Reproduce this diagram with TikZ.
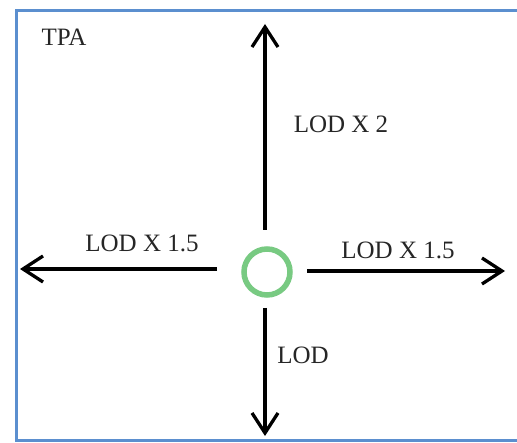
\documentclass[tikz,border=0pt]{standalone}
\usepackage{fontspec}
\setmainfont{Liberation Serif}
\usetikzlibrary{arrows.meta}
\definecolor{frameblue}{HTML}{5B8FCF}
\definecolor{ringgreen}{HTML}{78CA82}
\begin{document}
\begin{tikzpicture}[x=1pt,y=-1pt,
  lbl/.style={anchor=base,font=\fontsize{25}{28}\selectfont,text=black!85,inner sep=0pt},
  arr/.style={line width=3.3pt,-{Straight Barb[length=20pt,width=26pt,line width=3.3pt]}}]
\useasboundingbox (0,0) rectangle (517,443);
\clip (0,0) rectangle (517,443);
\fill[white] (0,0) rectangle (517,443);
\draw[frameblue,line width=3pt] (16,11) rectangle (540,441);
\node[circle,draw=ringgreen,line width=5.5pt,minimum size=46pt,inner sep=0pt] (c) at (267,272) {};
\coordinate (us) at (265,230); \coordinate (ue) at (265,24);
\coordinate (ds) at (265,308); \coordinate (de) at (265,436);
\coordinate (ls) at (217,269); \coordinate (le) at (20,269);
\coordinate (rs) at (307,271); \coordinate (re) at (505,271);
\draw[arr] (us) -- (ue);
\draw[arr] (ds) -- (de);
\draw[arr] (ls) -- (le);
\draw[arr] (rs) -- (re);
\node[lbl] (tpa) at (64,46) {TPA};
\node[lbl] (l2) at (341,133) {LOD X 2};
\node[lbl] (ll) at (142,252) {LOD X 1.5};
\node[lbl] (lr) at (398,259) {LOD X 1.5};
\node[lbl] (ld) at (303,364) {LOD};
\end{tikzpicture}
\end{document}
